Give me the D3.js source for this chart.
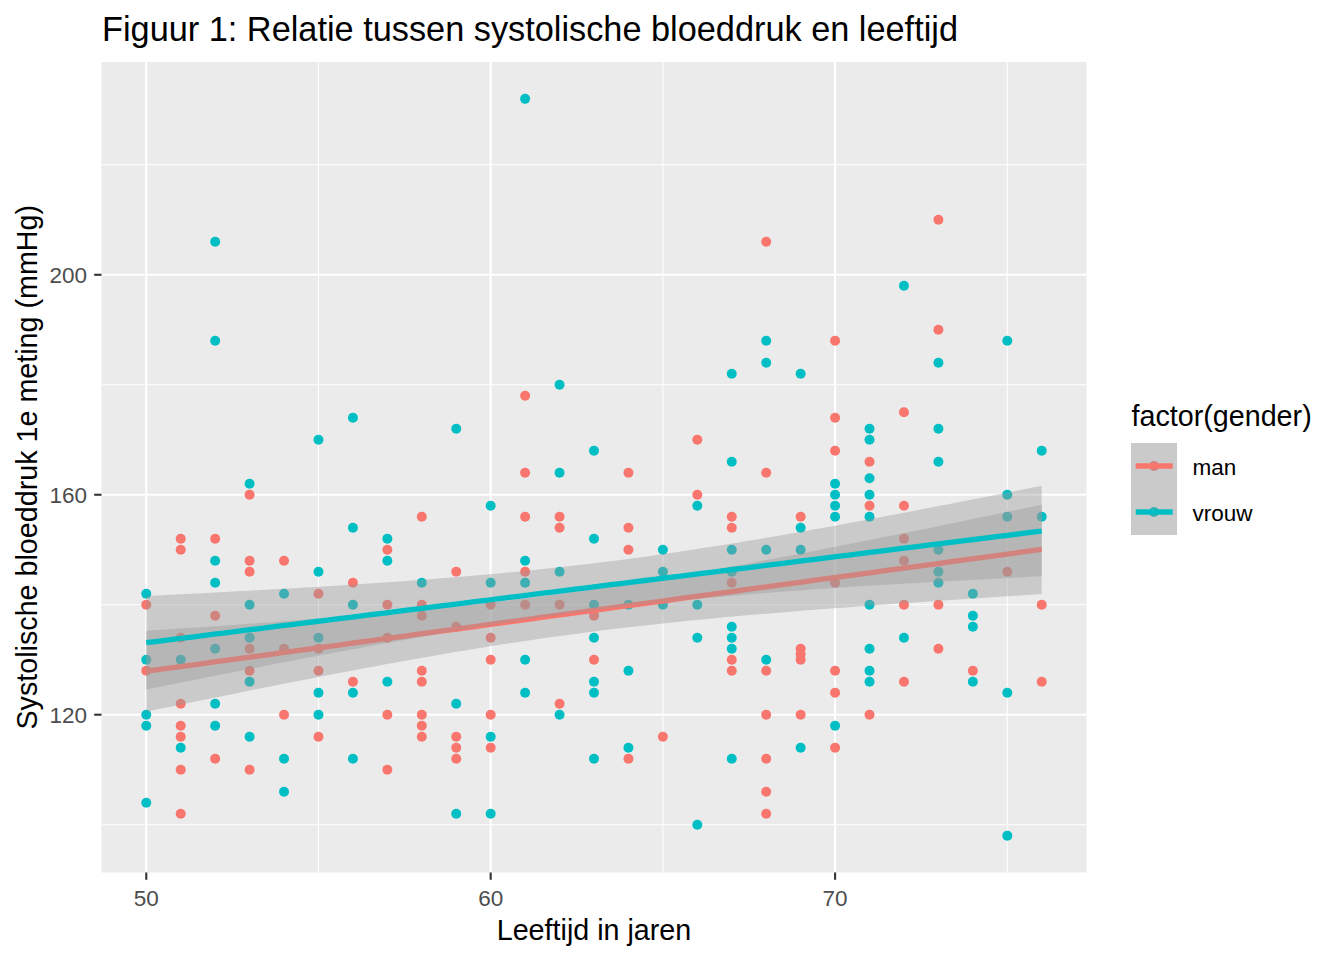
<!DOCTYPE html>
<html><head><meta charset="utf-8">
<script src="https://cdn.jsdelivr.net/npm/d3@7"></script>
<style>body{margin:0;background:#fff} svg{display:block} text{font-family:"Liberation Sans",Arial,sans-serif}</style>
</head><body><svg id="c" width="1344" height="960"></svg>
<script>
// ---- data: [leeftijd, systolische bloeddruk] ----
const manData = [
[50,140],[50,128],
[51,152],[51,150],[51,134],[51,122],[51,118],[51,116],[51,110],[51,102],
[52,152],[52,138],[52,112],
[53,160],[53,148],[53,146],[53,132],[53,128],[53,110],
[54,148],[54,132],[54,120],
[55,142],[55,132],[55,128],[55,116],
[56,144],[56,126],
[57,150],[57,140],[57,134],[57,120],[57,110],
[58,156],[58,140],[58,138],[58,128],[58,126],[58,120],[58,118],[58,116],
[59,146],[59,136],[59,116],[59,114],[59,112],
[60,140],[60,134],[60,130],[60,120],[60,114],
[61,178],[61,164],[61,156],[61,146],[61,140],
[62,156],[62,154],[62,140],[62,122],
[63,138],[63,130],
[64,164],[64,154],[64,150],[64,112],
[65,116],
[66,170],[66,160],
[67,156],[67,154],[67,144],[67,130],[67,128],
[68,206],[68,164],[68,128],[68,120],[68,112],[68,106],[68,102],
[69,156],[69,132],[69,131],[69,130],[69,120],
[70,188],[70,174],[70,168],[70,144],[70,128],[70,124],[70,114],
[71,166],[71,158],[71,120],
[72,175],[72,158],[72,152],[72,148],[72,140],[72,126],
[73,210],[73,190],[73,140],[73,132],
[74,128],
[75,146],
[76,140],[76,126]
];
const vrouwData = [
[50,142],[50,130],[50,120],[50,118],[50,104],
[51,130],[51,114],
[52,206],[52,188],[52,148],[52,144],[52,132],[52,122],[52,118],
[53,162],[53,140],[53,134],[53,126],[53,116],
[54,142],[54,112],[54,106],
[55,170],[55,146],[55,134],[55,124],[55,120],
[56,174],[56,154],[56,140],[56,124],[56,112],
[57,152],[57,148],[57,126],
[58,144],
[59,172],[59,122],[59,102],
[60,158],[60,144],[60,116],[60,102],
[61,232],[61,148],[61,144],[61,130],[61,124],
[62,180],[62,164],[62,146],[62,120],
[63,168],[63,152],[63,140],[63,134],[63,126],[63,124],[63,112],
[64,140],[64,128],[64,114],
[65,150],[65,146],[65,140],
[66,158],[66,140],[66,134],[66,100],
[67,182],[67,166],[67,150],[67,146],[67,136],[67,134],[67,132],[67,112],
[68,188],[68,184],[68,150],[68,130],
[69,182],[69,154],[69,150],[69,114],
[70,162],[70,160],[70,158],[70,156],[70,118],
[71,172],[71,170],[71,163],[71,160],[71,156],[71,140],[71,132],[71,128],[71,126],
[72,198],[72,134],
[73,184],[73,172],[73,166],[73,150],[73,146],[73,144],
[74,142],[74,138],[74,136],[74,126],
[75,188],[75,160],[75,156],[75,124],[75,98],
[76,168],[76,156]
];
const seriesNames = ["man","vrouw"];
const seriesColors = ["#F8766D","#00BFC4"];
const xMajor = [50,60,70], xMinor = [55,65,75];
const yMajor = [120,160,200], yMinor = [100,140,180,220];
const titleText = "Figuur 1: Relatie tussen systolische bloeddruk en leeftijd";
const xTitle = "Leeftijd in jaren";
const yTitle = "Systolische bloeddruk 1e meting (mmHg)";
const legendTitle = "factor(gender)";

// ---- layout ----
const P = {l:101.5, r:1086.5, t:62, b:872.5};
const svg = d3.select("#c");
const all = manData.concat(vrouwData);
const xe = d3.extent(all, d=>d[0]), ye = d3.extent(all, d=>d[1]);
const xp = (xe[1]-xe[0])*0.05, yp = (ye[1]-ye[0])*0.05;
const x = d3.scaleLinear().domain([xe[0]-xp, xe[1]+xp]).range([P.l, P.r]);
const y = d3.scaleLinear().domain([ye[0]-yp, ye[1]+yp]).range([P.b, P.t]);

svg.append("rect").attr("width",1344).attr("height",960).attr("fill","#fff");
svg.append("rect").attr("x",P.l).attr("y",P.t).attr("width",P.r-P.l).attr("height",P.b-P.t).attr("fill","#EBEBEB");
svg.append("defs").append("clipPath").attr("id","clip").append("rect")
  .attr("x",P.l).attr("y",P.t).attr("width",P.r-P.l).attr("height",P.b-P.t);

const grid = svg.append("g");
yMinor.forEach(v=>grid.append("line").attr("x1",P.l).attr("x2",P.r).attr("y1",y(v)).attr("y2",y(v)).attr("stroke","#fff").attr("stroke-width",1.05));
xMinor.forEach(v=>grid.append("line").attr("y1",P.t).attr("y2",P.b).attr("x1",x(v)).attr("x2",x(v)).attr("stroke","#fff").attr("stroke-width",1.05));
yMajor.forEach(v=>grid.append("line").attr("x1",P.l).attr("x2",P.r).attr("y1",y(v)).attr("y2",y(v)).attr("stroke","#fff").attr("stroke-width",2.1));
xMajor.forEach(v=>grid.append("line").attr("y1",P.t).attr("y2",P.b).attr("x1",x(v)).attr("x2",x(v)).attr("stroke","#fff").attr("stroke-width",2.1));

const plot = svg.append("g").attr("clip-path","url(#clip)");
const R = 5;
[manData, vrouwData].forEach((data,i)=>{
  plot.append("g").selectAll("circle").data(data).join("circle")
    .attr("cx",d=>x(d[0])).attr("cy",d=>y(d[1])).attr("r",R).attr("fill",seriesColors[i]);
});

// linear fit with 95% CI, as geom_smooth(method="lm")
function tq(df){ const z=1.959964; return z+(z*z*z+z)/(4*df)+(5*z**5+16*z**3+3*z)/(96*df*df); }
function fit(data){
  const n=data.length, xb=d3.mean(data,d=>d[0]), yb=d3.mean(data,d=>d[1]);
  let sxx=0,sxy=0; data.forEach(d=>{sxx+=(d[0]-xb)**2; sxy+=(d[0]-xb)*(d[1]-yb);});
  const b=sxy/sxx, a=yb-b*xb;
  let rss=0; data.forEach(d=>{rss+=(d[1]-a-b*d[0])**2;});
  const s2=rss/(n-2), t=tq(n-2);
  const ex=d3.extent(data,d=>d[0]);
  return d3.range(80).map(k=>{
    const xv=ex[0]+k*(ex[1]-ex[0])/79, f=a+b*xv, se=Math.sqrt(s2*(1/n+(xv-xb)**2/sxx));
    return {x:xv, y:f, lo:f-t*se, hi:f+t*se};
  });
}
const area = d3.area().x(d=>x(d.x)).y0(d=>y(d.lo)).y1(d=>y(d.hi));
const line = d3.line().x(d=>x(d.x)).y(d=>y(d.y));
[manData, vrouwData].forEach((data,i)=>{
  const f = fit(data);
  plot.append("path").attr("d",area(f)).attr("fill","#999999").attr("fill-opacity",0.4);
  plot.append("path").attr("d",line(f)).attr("fill","none").attr("stroke",seriesColors[i]).attr("stroke-width",5.3);
});

// axes
const ax = svg.append("g");
yMajor.forEach(v=>{
  ax.append("line").attr("x1",P.l-7.3).attr("x2",P.l).attr("y1",y(v)).attr("y2",y(v)).attr("stroke","#333").attr("stroke-width",2.1);
  ax.append("text").attr("x",P.l-14.5).attr("y",y(v)).attr("dy","0.36em").attr("text-anchor","end")
    .attr("font-size",22.5).attr("fill","#4D4D4D").text(v);
});
xMajor.forEach(v=>{
  ax.append("line").attr("y1",P.b).attr("y2",P.b+7.3).attr("x1",x(v)).attr("x2",x(v)).attr("stroke","#333").attr("stroke-width",2.1);
  ax.append("text").attr("x",x(v)).attr("y",P.b+33.5).attr("text-anchor","middle")
    .attr("font-size",22.5).attr("fill","#4D4D4D").text(v);
});
svg.append("text").attr("x",(P.l+P.r)/2).attr("y",940).attr("text-anchor","middle").attr("font-size",28.7).attr("fill","#000").text(xTitle);
svg.append("text").attr("transform",`translate(37,${(P.t+P.b)/2}) rotate(-90)`).attr("text-anchor","middle").attr("font-size",28.7).attr("fill","#000").text(yTitle);
svg.append("text").attr("x",102).attr("y",41).attr("font-size",34.3).attr("fill","#000").text(titleText);

// legend
const lg = svg.append("g");
lg.append("text").attr("x",1131.5).attr("y",426).attr("font-size",28.7).attr("fill","#000").text(legendTitle);
seriesNames.forEach((s,i)=>{
  const top = 443 + i*46, cy = top+23;
  lg.append("rect").attr("x",1131).attr("y",top).attr("width",46).attr("height",46).attr("fill","#EBEBEB");
  lg.append("circle").attr("cx",1154).attr("cy",cy).attr("r",R).attr("fill",seriesColors[i]);
  lg.append("rect").attr("x",1131).attr("y",top).attr("width",46).attr("height",46).attr("fill","#999999").attr("fill-opacity",0.4);
  lg.append("line").attr("x1",1135.7).attr("x2",1172.7).attr("y1",cy).attr("y2",cy).attr("stroke",seriesColors[i]).attr("stroke-width",5.3);
  lg.append("text").attr("x",1192.5).attr("y",cy+9).attr("font-size",22.5).attr("fill","#000").text(s);
});
</script>
</body></html>
